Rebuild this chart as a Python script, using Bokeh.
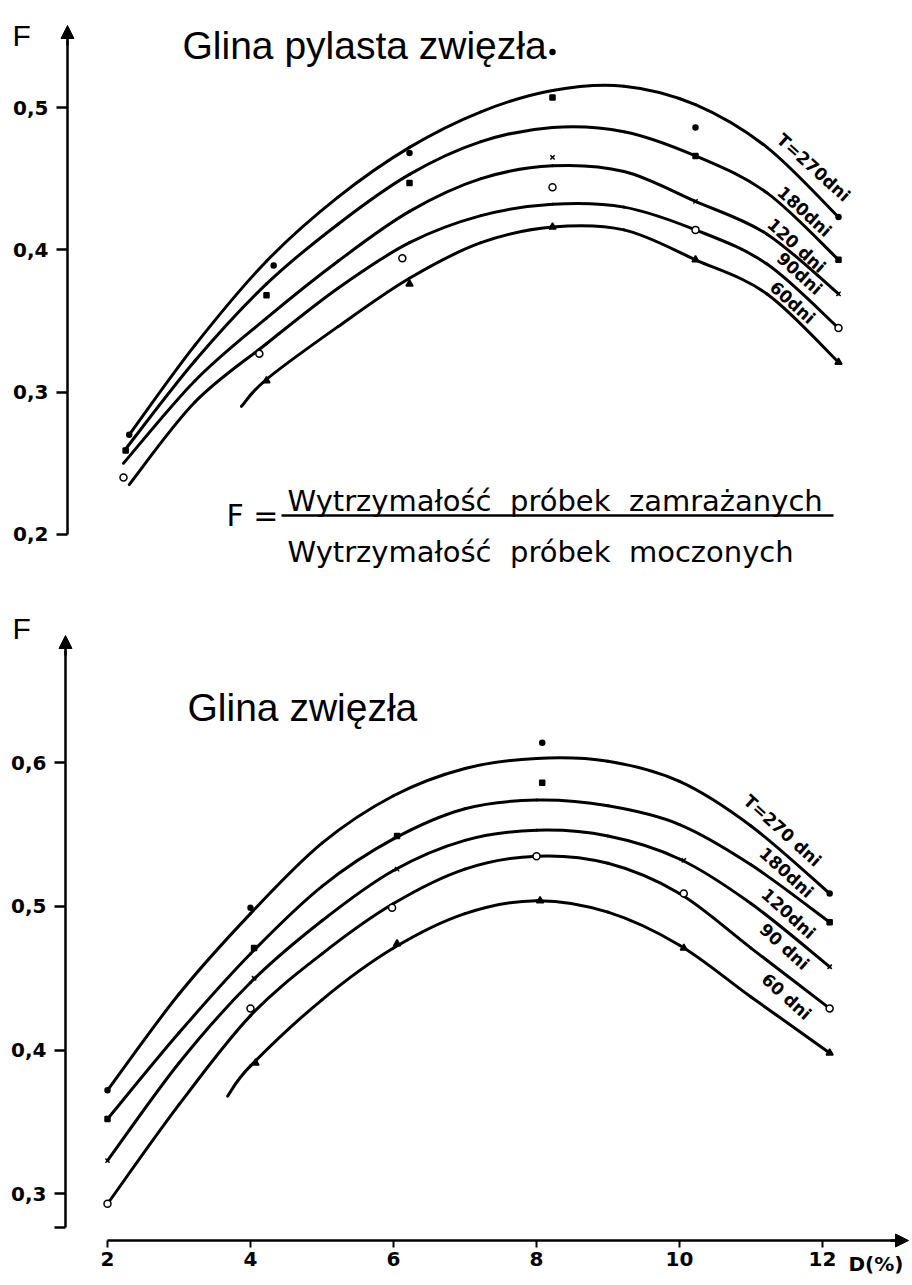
import math
from bokeh.plotting import figure
from bokeh.models import Range1d, LinearAxis, FixedTicker, Arrow, NormalHead, CustomJSTickFormatter
from bokeh.layouts import column
from bokeh.embed import file_html
from bokeh.resources import INLINE
from bokeh.core.properties import value

# ================= DATA =================
# ---- upper panel: Glina pylasta zwięzła ----
top_title = "Glina pylasta zwięzła"
top_labels = ["T=270dni", "180dni", "120 dni", "90dni", "60dni"]

top_x_270 = [2.08, 3, 4, 5, 6, 7, 8, 9, 10, 11, 12]
top_F_270 = [0.270, 0.333, 0.392, 0.437, 0.472, 0.497, 0.512, 0.515, 0.502, 0.472, 0.423]
top_x_180 = [2.03, 3, 4, 5, 6, 7, 8, 9, 10, 11, 12]
top_F_180 = [0.260, 0.322, 0.376, 0.418, 0.453, 0.476, 0.486, 0.483, 0.466, 0.440, 0.393]
top_x_120 = [2.0, 3, 4, 5, 6, 7, 8, 9, 10, 11, 12]
top_F_120 = [0.250, 0.308, 0.352, 0.392, 0.427, 0.450, 0.459, 0.455, 0.434, 0.411, 0.369]
top_x_90 = [2.08, 3, 4, 5, 6, 7, 8, 9, 10, 11, 12]
top_F_90 = [0.235, 0.293, 0.334, 0.373, 0.405, 0.424, 0.432, 0.430, 0.414, 0.390, 0.345]
top_x_60 = [3.65, 4, 5, 6, 7, 8, 9, 10, 11, 12]
top_F_60 = [0.290, 0.309, 0.346, 0.380, 0.405, 0.416, 0.414, 0.393, 0.369, 0.321]

# measured points (upper panel)
top_pts_270_x = [2.08, 4.1, 6.0, 8.0, 10.0, 12.0]
top_pts_270_F = [0.270, 0.389, 0.468, 0.539, 0.486, 0.423]
top_pts_180_x = [2.03, 4.0, 6.0, 8.0, 10.0, 12.0]
top_pts_180_F = [0.259, 0.368, 0.447, 0.507, 0.466, 0.393]
top_pts_120_x = [8.0, 10.0, 12.0]
top_pts_120_F = [0.465, 0.434, 0.369]
top_pts_90_x = [2.0, 3.9, 5.9, 8.0, 10.0, 12.0]
top_pts_90_F = [0.240, 0.327, 0.394, 0.444, 0.414, 0.345]
top_pts_60_x = [4.0, 6.0, 8.0, 10.0, 12.0]
top_pts_60_F = [0.308, 0.376, 0.416, 0.393, 0.321]

top_yticks = [0.2, 0.3, 0.4, 0.5]

# ---- lower panel: Glina zwięzła ----
bot_title = "Glina zwięzła"
bot_labels = ["T=270 dni", "180dni", "120dni", "90 dni", "60 dni"]

bot_x = [2, 3, 4, 5, 6, 7, 8, 9, 10, 11, 12.1]
bot_F_270 = [0.372, 0.439, 0.495, 0.544, 0.577, 0.596, 0.603, 0.601, 0.587, 0.556, 0.509]
bot_F_180 = [0.352, 0.412, 0.467, 0.514, 0.547, 0.568, 0.574, 0.570, 0.557, 0.529, 0.489]
bot_F_120 = [0.323, 0.391, 0.447, 0.490, 0.525, 0.546, 0.553, 0.549, 0.533, 0.502, 0.458]
bot_F_90 = [0.293, 0.362, 0.424, 0.467, 0.502, 0.526, 0.535, 0.530, 0.509, 0.471, 0.429]
bot_x_60 = [3.68, 4, 5, 6, 7, 8, 9, 10, 11, 12.1]
bot_F_60 = [0.368, 0.389, 0.435, 0.471, 0.495, 0.504, 0.496, 0.473, 0.437, 0.398]

bot_pts_270_x = [2, 4.0, 8.08, 12.1]
bot_pts_270_F = [0.372, 0.499, 0.614, 0.509]
bot_pts_180_x = [2, 4.05, 6.05, 8.08, 12.1]
bot_pts_180_F = [0.352, 0.471, 0.549, 0.586, 0.489]
bot_pts_120_x = [2, 4.05, 6.05, 10.06, 12.1]
bot_pts_120_F = [0.323, 0.450, 0.526, 0.532, 0.458]
bot_pts_90_x = [2, 4.0, 5.98, 8.0, 10.06, 12.1]
bot_pts_90_F = [0.293, 0.429, 0.499, 0.535, 0.509, 0.429]
bot_pts_60_x = [4.07, 6.05, 8.05, 10.06, 12.1]
bot_pts_60_F = [0.391, 0.474, 0.504, 0.471, 0.398]

bot_yticks = [0.3, 0.4, 0.5, 0.6]
xticks = [2, 4, 6, 8, 10, 12]

formula_num = "Wytrzymałość\u00a0\u00a0próbek\u00a0\u00a0zamrażanych"
formula_den = "Wytrzymałość\u00a0\u00a0próbek\u00a0\u00a0moczonych"

# ================= LAYOUT / STYLE =================
W = 910
H1, H2 = 600, 683          # page y: 0..600, 600..1283
FONT_T = "Liberation Sans"
FONT_H = "DejaVu Sans"
LW = 3
ANG = -math.radians(42)

# pixel calibration (page coordinates)
def TX(px): return 2 + (px - 123) / 71.5
def TY(py): return 0.5 - (py - 107) / 1423.0
def BX(px): return 2 + (px - 107) / 71.5
def BY(py): return 0.45 + (977.75 - py) / 1436.7


def make_fig(h, xr, yr):
    p = figure(width=W, height=h, x_range=Range1d(*xr), y_range=Range1d(*yr),
               output_backend="svg", toolbar_location=None,
               x_axis_location=None, y_axis_location=None, min_border=0)
    p.outline_line_color = None
    p.background_fill_color = "white"
    p.border_fill_color = "white"
    p.xgrid.visible = False
    p.ygrid.visible = False
    return p


fmt = CustomJSTickFormatter(code="""
const r = Math.round(tick * 10);
if (Math.abs(tick * 10 - r) > 1e-6) return "";
return (r / 10).toFixed(1).replace('.', ',');
""")


def yaxis(p, xloc, lo, hi, ticks):
    ax = LinearAxis(fixed_location=xloc, bounds=(lo, hi), ticker=FixedTicker(ticks=ticks),
                    formatter=fmt, major_tick_out=11, major_tick_in=0,
                    minor_tick_line_color=None, axis_line_width=2.5,
                    major_tick_line_width=2.5, major_label_standoff=8,
                    major_label_text_font=FONT_H, major_label_text_font_size="20px",
                    major_label_text_font_style="bold", major_label_text_color="black")
    p.add_layout(ax, "left")


def smooth_curve(p, xs, ys):
    """Draw a smooth curve through the read points (Catmull-Rom drawn as Bezier segments)."""
    n = len(xs)
    cols = {k: [] for k in ("x0", "y0", "x1", "y1", "cx0", "cy0", "cx1", "cy1")}
    for i in range(n - 1):
        im = i - 1 if i > 0 else i
        ip = i + 2 if i + 2 < n else i + 1
        cols["x0"].append(xs[i]); cols["y0"].append(ys[i])
        cols["x1"].append(xs[i + 1]); cols["y1"].append(ys[i + 1])
        cols["cx0"].append(xs[i] + (xs[i + 1] - xs[im]) / 6.0)
        cols["cy0"].append(ys[i] + (ys[i + 1] - ys[im]) / 6.0)
        cols["cx1"].append(xs[i + 1] - (xs[ip] - xs[i]) / 6.0)
        cols["cy1"].append(ys[i + 1] - (ys[ip] - ys[i]) / 6.0)
    p.bezier(line_width=LW, line_color="black", line_cap="round", **cols)


def curves(p, xs_list, ys_list):
    for xs, ys in zip(xs_list, ys_list):
        smooth_curve(p, xs, ys)


def points(p, sets):
    styles = [dict(marker="circle", size=5, fill_color="black"),
              dict(marker="square", size=5, fill_color="black"),
              dict(marker="x", size=6, fill_color="black"),
              dict(marker="circle", size=7, fill_color="white"),
              dict(marker="triangle", size=7, fill_color="black")]
    for (xs, ys), st in zip(sets, styles):
        p.scatter(xs, ys, line_color="black", line_width=1.5, **st)


def txt(p, x, y, t, size, font=FONT_H, align="left", baseline="middle", angle=0.0, style="normal"):
    p.text(x=[x], y=[y], text=[t], angle=angle, text_font=value(font),
           text_font_size=value(size), text_align=align, text_baseline=baseline,
           text_color="black", text_font_style=style)


# ================= UPPER PANEL =================
p1 = make_fig(H1, (TX(0), TX(W)), (TY(H1), TY(0)))
ax1 = TX(67)
yaxis(p1, ax1, 0.2, TY(40), top_yticks)
p1.add_layout(Arrow(end=NormalHead(size=13, fill_color="black", line_color="black"),
                    x_start=ax1, y_start=TY(45), x_end=ax1, y_end=TY(25), line_width=2.5))
curves(p1, [top_x_270, top_x_180, top_x_120, top_x_90, top_x_60],
       [top_F_270, top_F_180, top_F_120, top_F_90, top_F_60])
points(p1, [(top_pts_270_x, top_pts_270_F), (top_pts_180_x, top_pts_180_F),
            (top_pts_120_x, top_pts_120_F), (top_pts_90_x, top_pts_90_F),
            (top_pts_60_x, top_pts_60_F)])
txt(p1, TX(12), TY(35), "F", "30px", font=FONT_T)
txt(p1, TX(182), TY(45), top_title, "39px", font=FONT_T, baseline="alphabetic")
for lab, (cx, cy) in zip(top_labels, [(813, 167), (804, 211), (796, 245), (799, 273), (792, 302)]):
    txt(p1, TX(cx), TY(cy), lab, "17px", align="center", angle=ANG, style="bold")
# formula
txt(p1, TX(226), TY(515), "F =", "30px")
p1.line([TX(281), TX(833)], [TY(515), TY(515)], line_width=2.5, line_color="black")
txt(p1, TX(287), TY(500), formula_num, "29px", baseline="alphabetic")
txt(p1, TX(287), TY(551), formula_den, "29px", baseline="alphabetic")

# ================= LOWER PANEL =================
p2 = make_fig(H2, (BX(0), BX(W)), (BY(600 + H2), BY(600)))
ax2 = BX(65)
yaxis(p2, ax2, BY(1227), BY(650), [BY(1227)] + bot_yticks)
p2.add_layout(Arrow(end=NormalHead(size=13, fill_color="black", line_color="black"),
                    x_start=ax2, y_start=BY(655), x_end=ax2, y_end=BY(635), line_width=2.5))
xax_y = BY(1240)
xax = LinearAxis(fixed_location=xax_y, bounds=(2, BX(895)), ticker=FixedTicker(ticks=xticks),
                 major_tick_out=7, major_tick_in=0, minor_tick_line_color=None,
                 axis_line_width=2.5, major_tick_line_width=2, major_label_standoff=4,
                 major_label_text_font=FONT_H, major_label_text_font_size="20px",
                 major_label_text_font_style="bold", major_label_text_color="black")
p2.add_layout(xax, "below")
p2.add_layout(Arrow(end=NormalHead(size=13, fill_color="black", line_color="black"),
                    x_start=BX(890), y_start=xax_y, x_end=BX(908), y_end=xax_y, line_width=2.5))
txt(p2, BX(848), BY(1263), "D(%)", "20px", style="bold")
curves(p2, [bot_x, bot_x, bot_x, bot_x, bot_x_60],
       [bot_F_270, bot_F_180, bot_F_120, bot_F_90, bot_F_60])
points(p2, [(bot_pts_270_x, bot_pts_270_F), (bot_pts_180_x, bot_pts_180_F),
            (bot_pts_120_x, bot_pts_120_F), (bot_pts_90_x, bot_pts_90_F),
            (bot_pts_60_x, bot_pts_60_F)])
txt(p2, BX(12), BY(628), "F", "30px", font=FONT_T)
txt(p2, BX(187), BY(707), bot_title, "39px", font=FONT_T, baseline="alphabetic")
for lab, (cx, cy) in zip(bot_labels, [(782, 830), (786, 872), (788, 913), (784, 946), (786, 996)]):
    txt(p2, BX(cx), BY(cy), lab, "17px", align="center", angle=ANG, style="bold")

layout = column(p1, p2, spacing=0)
open("out.html", "w").write(file_html(layout, INLINE))
